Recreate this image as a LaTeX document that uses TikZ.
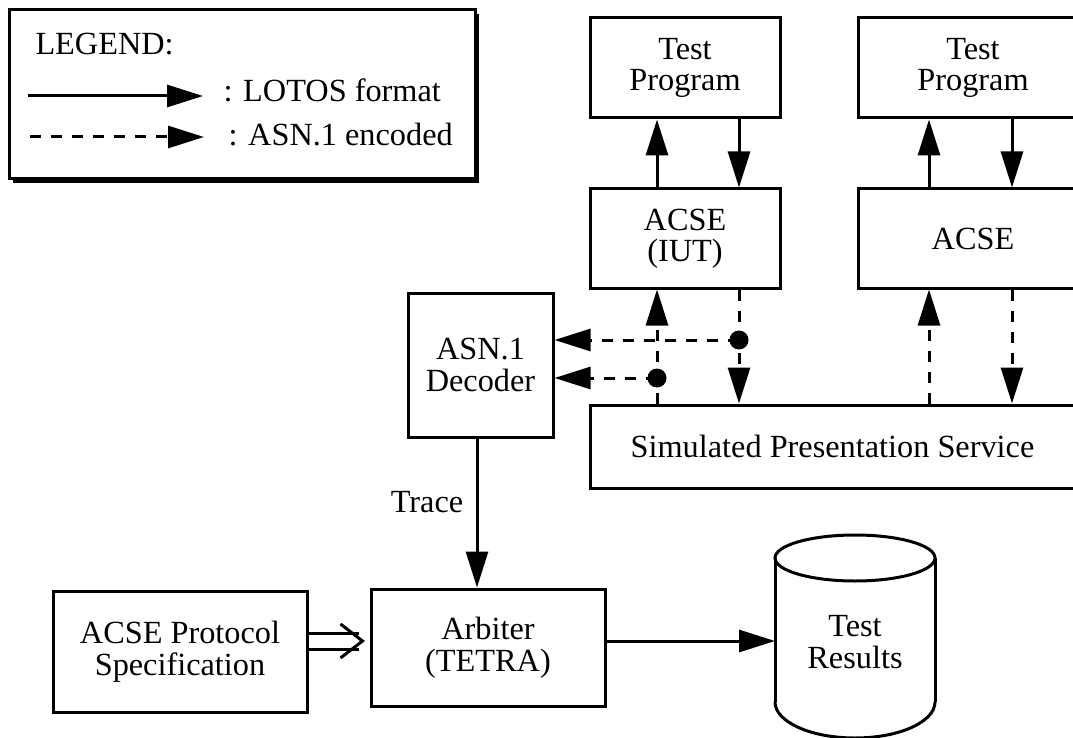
\documentclass[tikz,border=0pt]{standalone}
\usepackage{fontspec}
\setmainfont{Liberation Serif}
\usetikzlibrary{arrows.meta,calc}
\newcommand\diagfont{\fontsize{32.3pt}{31.5pt}\selectfont}
\begin{document}
\begin{tikzpicture}[x=1pt,y=-1pt,
  line width=3pt,
  every node/.style={font=\diagfont},
  box/.style={draw,rectangle,align=center,inner sep=0pt,fill=white},
  tip/.style={-{Triangle[length=36pt,width=22pt]}},
  flow/.style={tip},
  enc/.style={tip,dash pattern=on 11pt off 10pt},
  dot/.style={circle,fill=black,draw=none,minimum size=19pt,inner sep=0pt}]
\useasboundingbox (0,0) rectangle (1073,738);
\fill[white] (0,0) rectangle (1073,738);
\clip (0,0) rectangle (1073,738);

% legend with drop shadow
\fill[black] (13,14) rectangle (479,183);
\draw[fill=white] (9,10) rectangle (475,179);
\node[anchor=base west,inner sep=0pt] (lgtitle) at (34,55) {LEGEND:};
\coordinate (ls1) at (28,96);
\coordinate (le1) at (203,96);
\coordinate (ls2) at (30,137);
\coordinate (le2) at (204,137);
\draw[flow] (ls1) -- (le1);
\draw[enc] (ls2) -- (le2);
\node[anchor=base west,inner sep=0pt] (lglotos) at (222,102) {: LOTOS format};
\node[anchor=base west,inner sep=0pt] (lgasn) at (227,146) {: ASN.1 encoded};

% test programs and ACSE entities
\node[box,minimum width=190pt,minimum height=100pt] (tp1) at (685,68) {Test\\Program};
\node[box,minimum width=230pt,minimum height=100pt] (tp2) at (973,68) {Test\\Program};
\node[box,minimum width=190pt,minimum height=99pt] (acse1) at (685,238.5) {ACSE\\(IUT)};
\node[box,minimum width=230pt,minimum height=99pt] (acse2) at (973,238.5) {ACSE};
\node[box,minimum width=485pt,minimum height=83pt] (sim) at (832.5,446.5) {Simulated Presentation Service};
\node[box,minimum width=145pt,minimum height=144pt] (dec) at (480.5,365) {ASN.1\\Decoder};
\node[box,minimum width=234pt,minimum height=117pt] (arb) at (488,647.5) {Arbiter\\(TETRA)};
\node[box,minimum width=254pt,minimum height=121pt] (spec) at (180,651.5) {ACSE Protocol\\Specification};

% vertical connector positions
\coordinate (xa) at (657,0);
\coordinate (xb) at (739,0);
\coordinate (xc) at (929,0);
\coordinate (xd) at (1012,0);
\coordinate (xt) at (477,0);
\coordinate (ya) at (0,641);

% LOTOS-format exchanges between test programs and ACSE
\draw[flow] (acse1.north -| xa) -- (tp1.south -| xa);
\draw[flow] (tp1.south -| xb) -- (acse1.north -| xb);
\draw[flow] (acse2.north -| xc) -- (tp2.south -| xc);
\draw[flow] (tp2.south -| xd) -- (acse2.north -| xd);

% ASN.1-encoded PDUs through the presentation service
\draw[enc] (sim.north -| xa) -- (acse1.south -| xa);
\draw[enc] (acse1.south -| xb) -- (sim.north -| xb);
\draw[enc] (sim.north -| xc) -- (acse2.south -| xc);
\draw[enc] (acse2.south -| xd) -- (sim.north -| xd);

% taps feeding the decoder
\node[dot] (tapb) at (739,340) {};
\node[dot] (tapa) at (657,378) {};
\draw[enc] (tapb.center) -- (dec.east |- tapb);
\draw[enc] (tapa.center) -- (dec.east |- tapa);

% trace to the arbiter
\draw[flow] (dec.south -| xt) -- (arb.north -| xt);
\node (trace) at (427,502) {Trace};

% specification input (double arrow)
\draw (spec.east |- ya) ++(0,-8) -- ++(50,0);
\draw (spec.east |- ya) ++(0,8) -- ++(50,0);
\draw[line join=miter] ($(arb.west |- ya)+(-29,-17)$) -- ($(arb.west |- ya)+(-7,0)$) -- ($(arb.west |- ya)+(-29,17)$);

% test results store
\draw (855,558) ellipse [x radius=80pt,y radius=23pt];
\draw (775,558) -- (775,702);
\draw (935,558) -- (935,702);
\draw (775,702) arc[start angle=180,end angle=360,x radius=80pt,y radius=36pt];
\node[align=center] (res) at (855,642) {Test\\Results};
\coordinate (reswall) at (775,641);
\draw[flow] (arb.east |- ya) -- (reswall);
\end{tikzpicture}
\end{document}
